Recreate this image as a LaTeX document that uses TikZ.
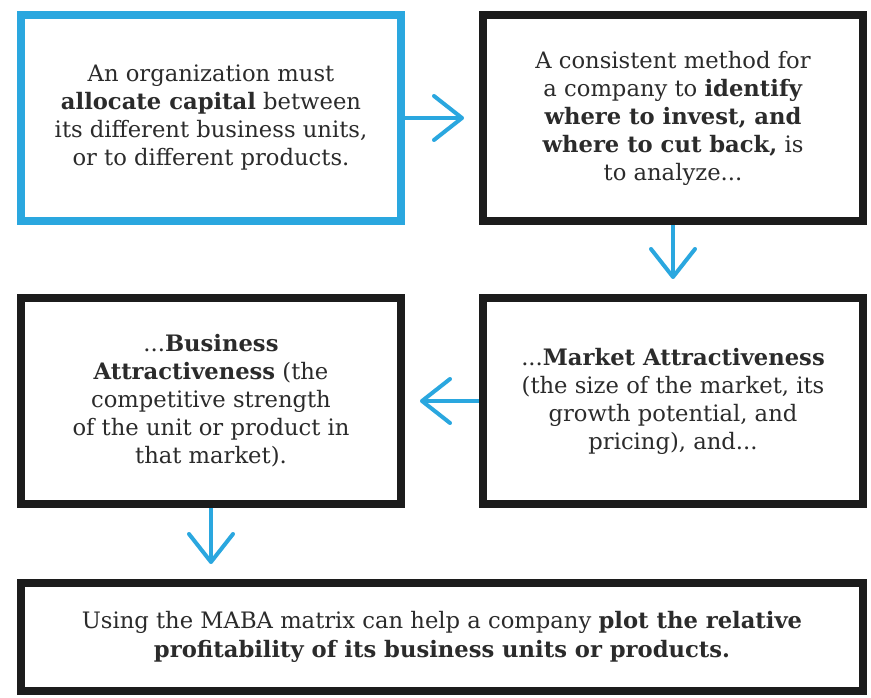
\documentclass[tikz,border=0pt]{standalone}
\usepackage{fontspec}
\setmainfont{DejaVu Serif}
\usepackage{xcolor}
\definecolor{sketchBlue}  {HTML}{2AA7DF}
\definecolor{inkBlack}    {HTML}{1C1C1C}
\definecolor{bodyText}    {HTML}{2B2B2B}
\usetikzlibrary{arrows.meta, positioning, calc}
\tikzset{
    card/.style={rectangle, draw=inkBlack, line width=6.5pt, fill=white,
                 minimum width=285pt, minimum height=154.5pt, inner sep=0pt,
                 align=center, text=bodyText,
                 font=\fontsize{17pt}{21pt}\selectfont},
    bluecard/.style={card, draw=sketchBlue},
    widecard/.style={card, minimum width=631.5pt, minimum height=81pt,
                     font=\fontsize{17pt}{21.75pt}\selectfont},
    flow/.style={-{Straight Barb[length=21pt, width=33pt, round]},
                 line width=3pt, sketchBlue, shorten >=11pt},
}

\begin{document}
\begin{tikzpicture}
    \useasboundingbox (-158.25pt,-435pt) rectangle (495pt,88.5pt);
    \node[bluecard] (alloc) at (0,0)
        {An organization must\\\textbf{allocate capital} between\\its different business units,\\or to different products.};
    \node[card, right=55pt of alloc] (method)
        {A consistent method for\\a company to \textbf{identify}\\\textbf{where to invest, and}\\\textbf{where to cut back,} is\\to analyze...};
    \node[card, below=51.25pt of method] (market)
        {...\textbf{Market Attractiveness}\\(the size of the market, its\\growth potential, and\\pricing), and...};
    \node[card, below=51.25pt of alloc] (business)
        {...\textbf{Business}\\\textbf{Attractiveness} (the\\competitive strength\\of the unit or product in\\that market).};
    \coordinate (mid) at ($(business.south)!0.5!(market.south)$);
    \node[widecard, below=52.75pt of mid] (matrix)
        {Using the MABA matrix can help a company \textbf{plot the relative}\\\textbf{profitability of its business units or products.}};
    \draw[flow] (alloc) -- (method);
    \draw[flow] (method) -- (market);
    \draw[flow] (market) -- (business);
    \draw[flow] (business) -- (business |- matrix.north);
\end{tikzpicture}
\end{document}
